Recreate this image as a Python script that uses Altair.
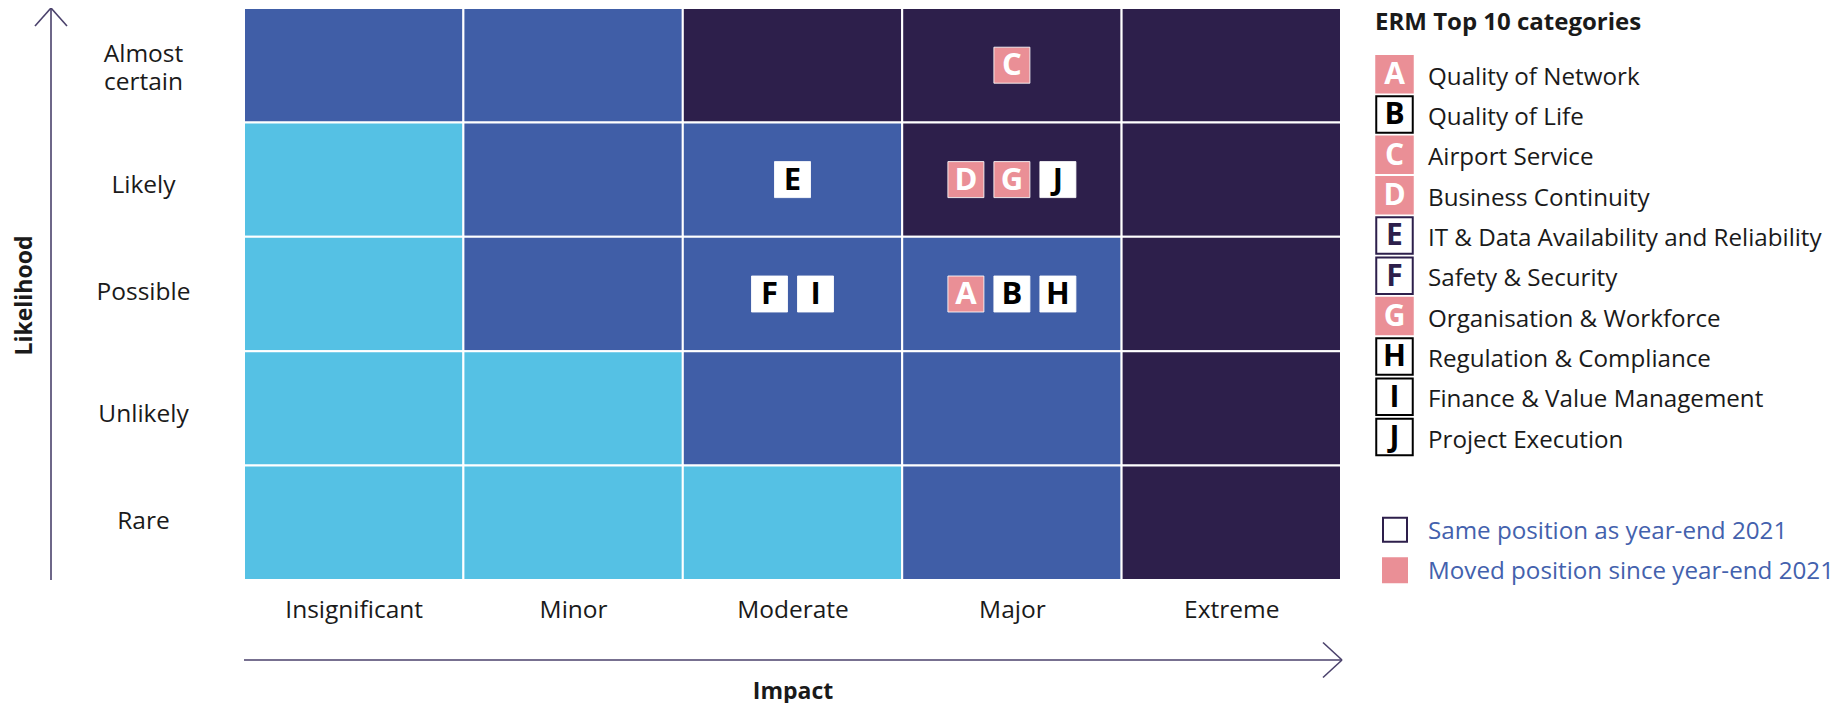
import json
import altair as alt
import pandas as pd

# ---------------- data ----------------
impact_levels = ["Insignificant", "Minor", "Moderate", "Major", "Extreme"]
likelihood_levels = ["Almost certain", "Likely", "Possible", "Unlikely", "Rare"]  # top -> bottom

# risk band of every cell, rows top -> bottom, columns left -> right
risk_matrix = [
    ["medium", "medium", "high", "high", "high"],
    ["low", "medium", "medium", "high", "high"],
    ["low", "medium", "medium", "medium", "high"],
    ["low", "low", "medium", "medium", "high"],
    ["low", "low", "low", "medium", "high"],
]
risk_bands = ["low", "medium", "high"]

letters = ["A", "B", "C", "D", "E", "F", "G", "H", "I", "J"]
categories = [
    "Quality of Network",
    "Quality of Life",
    "Airport Service",
    "Business Continuity",
    "IT & Data Availability and Reliability",
    "Safety & Security",
    "Organisation & Workforce",
    "Regulation & Compliance",
    "Finance & Value Management",
    "Project Execution",
]
letter_impact = ["Major", "Major", "Major", "Major", "Moderate",
                 "Moderate", "Major", "Major", "Moderate", "Major"]
letter_likelihood = ["Possible", "Possible", "Almost certain", "Likely", "Likely",
                     "Possible", "Likely", "Possible", "Possible", "Likely"]
letter_moved = [True, False, True, True, False, False, True, False, False, False]
legend_ink = ["moved", "black", "moved", "moved", "purple",
              "purple", "moved", "black", "black", "black"]

legend_title = "ERM Top 10 categories"
status_labels = ["Same position as year-end 2021", "Moved position since year-end 2021"]
status_kinds = ["same", "moved"]

# ---------------- styling ----------------
W, H = 1097, 572
COL_W = W / len(impact_levels)
BOX_PITCH = 46  # px between letter boxes in one cell

LIGHT, MID, DARK = "#55C1E4", "#405EA7", "#2D1F4B"
PINK = "#EA8F96"
PURPLE = "#2D1F4B"
ARROW = "#4A416B"
TXT = "#1A1A1A"
BLUE_TXT = "#4361AD"
FONT = "Open Sans"
AX_FS = 24.5
LEG_FS = 24.2

# ---------------- tables ----------------
cells = []
for r, row in enumerate(risk_matrix):
    for c, lvl in enumerate(row):
        cells.append({"impact": impact_levels[c], "likelihood": likelihood_levels[r],
                      "c0": c, "c1": c + 1, "r0": r, "r1": r + 1, "level": lvl})
cells_df = pd.DataFrame(cells)

boxes = pd.DataFrame({"letter": letters, "impact": letter_impact,
                      "likelihood": letter_likelihood,
                      "status": ["moved" if m else "same" for m in letter_moved]})
boxes["col"] = boxes["impact"].map(impact_levels.index)
boxes["row"] = boxes["likelihood"].map(likelihood_levels.index)
boxes["slot"] = boxes.groupby(["col", "row"]).cumcount()
boxes["n"] = boxes.groupby(["col", "row"])["letter"].transform("count")
boxes["bx"] = boxes["col"] + 0.5 + (boxes["slot"] - (boxes["n"] - 1) / 2) * BOX_PITCH / COL_W
boxes["by"] = boxes["row"] + 0.5

one = pd.DataFrame({"k": [0]})

xs = alt.Scale(domain=[0, len(impact_levels)], nice=False, zero=False)
ys = alt.Scale(domain=[0, len(likelihood_levels)], nice=False, zero=False, reverse=True)

x_expr = json.dumps(impact_levels) + "[floor(datum.value)]"
y_expr = "split(" + json.dumps(likelihood_levels) + "[floor(datum.value)], ' ')"

# small vertical nudges of the row labels, as set in the original layout
y_label_offset = {
    "condition": [
        {"test": "datum.value < 1", "value": -10.5},
        {"test": "datum.value > 1 && datum.value < 2", "value": 6},
        {"test": "datum.value > 3 && datum.value < 4", "value": 6},
    ],
    "value": -1.5,
}

x_axis = alt.Axis(values=[i + 0.5 for i in range(len(impact_levels))], labelExpr=x_expr,
                  grid=False, domain=False, ticks=False, tickSize=0, labelPadding=18,
                  labelFontSize=AX_FS, labelColor=TXT, labelFont=FONT, labelFontWeight="normal",
                  titleFontSize=23, titleFontWeight="bold", titleColor=TXT, titleFont=FONT,
                  titleBaseline="alphabetic", titleY=118)
y_axis = alt.Axis(values=[i + 0.5 for i in range(len(likelihood_levels))], labelExpr=y_expr,
                  grid=False, domain=False, ticks=False, tickSize=0, labelPadding=101,
                  labelAlign="center", labelBaseline="middle", labelLineHeight=28,
                  labelOffset=y_label_offset,
                  labelFontSize=AX_FS, labelColor=TXT, labelFont=FONT,
                  titleFontSize=23, titleFontWeight="bold", titleColor=TXT, titleFont=FONT,
                  titleX=-220, titleY=H / 2 + 1, titleAlign="center", titleBaseline="middle")

grid = alt.Chart(cells_df).mark_rect(stroke="white", strokeWidth=2).encode(
    x=alt.X("c0:Q", scale=xs, axis=x_axis, title="Impact"),
    x2="c1:Q",
    y=alt.Y("r0:Q", scale=ys, axis=y_axis, title="Likelihood"),
    y2="r1:Q",
    fill=alt.Fill("level:N", scale=alt.Scale(domain=risk_bands, range=[LIGHT, MID, DARK]), legend=None),
)

box_marks = alt.Chart(boxes).mark_square(size=1296, filled=True, stroke="white",
                                         strokeWidth=1, strokeOpacity=0.85, opacity=1).encode(
    x=alt.X("bx:Q", scale=xs, title="Impact"),
    y=alt.Y("by:Q", scale=ys, title="Likelihood"),
    fill=alt.condition("datum.status == 'moved'", alt.value(PINK), alt.value("white")),
)
box_text = alt.Chart(boxes).mark_text(font=FONT, fontWeight="bold", fontSize=31,
                                      align="center", baseline="middle", dy=1).encode(
    x=alt.X("bx:Q", scale=xs, title="Impact"),
    y=alt.Y("by:Q", scale=ys, title="Likelihood"),
    text="letter:N",
    color=alt.condition("datum.status == 'moved'", alt.value("white"), alt.value("black")),
)


def rule(x, y, x2=None, y2=None):
    enc = {"x": alt.value(x), "y": alt.value(y)}
    if x2 is not None:
        enc["x2"] = alt.value(x2)
    if y2 is not None:
        enc["y2"] = alt.value(y2)
    return alt.Chart(one).mark_rule(color=ARROW, strokeWidth=1.6).encode(**enc)


ax_x = 53 - 246
arr_y = 662 - 10
arrows = [
    rule(ax_x, 0, y2=H),
    rule(ax_x - 16, 18, x2=ax_x, y2=0),
    rule(ax_x + 16, 18, x2=ax_x, y2=0),
    rule(0, arr_y, x2=W + 1),
    rule(W + 1 - 19, arr_y - 17.5, x2=W + 1, y2=arr_y),
    rule(W + 1 - 19, arr_y + 17.5, x2=W + 1, y2=arr_y),
]

main = alt.layer(grid, box_marks, box_text, *arrows).properties(width=W, height=H)

# ---------------- legend panel ----------------
leg = pd.DataFrame({"letter": letters, "category": categories, "ink": legend_ink,
                    "idx": list(range(len(letters)))})
leg["status"] = ["moved" if m else "same" for m in letter_moved]
stat = pd.DataFrame({"label": status_labels, "kind": status_kinds,
                     "idx": [len(letters) + 1.3 + i for i in range(len(status_labels))]})

ls = alt.Scale(domain=[-1.64, 12.543], nice=False, zero=False, reverse=True)
LW = 380

leg_box = alt.Chart(leg).mark_square(size=1332, filled=True, strokeWidth=2, opacity=1).encode(
    x=alt.value(19.5),
    y=alt.Y("idx:Q", scale=ls, axis=None),
    fill=alt.condition("datum.status == 'moved'", alt.value(PINK), alt.value("white")),
    stroke=alt.Stroke("ink:N", scale=alt.Scale(domain=["moved", "black", "purple"],
                                               range=[PINK, "black", PURPLE]), legend=None),
)
leg_letter = alt.Chart(leg).mark_text(font=FONT, fontWeight="bold", fontSize=30,
                                      align="center", baseline="middle", dy=1).encode(
    x=alt.value(19.5),
    y=alt.Y("idx:Q", scale=ls, axis=None),
    text="letter:N",
    color=alt.Color("ink:N", scale=alt.Scale(domain=["moved", "black", "purple"],
                                             range=["white", "black", PURPLE]), legend=None),
)
leg_label = alt.Chart(leg).mark_text(font=FONT, fontSize=LEG_FS, align="left", baseline="middle",
                                     color=TXT, dy=3.5).encode(
    x=alt.value(53),
    y=alt.Y("idx:Q", scale=ls, axis=None),
    text="category:N",
)
leg_title = alt.Chart(one).mark_text(font=FONT, fontSize=24, fontWeight="bold", align="left",
                                     baseline="middle", color=TXT, text=legend_title).encode(
    x=alt.value(0),
    y=alt.Y(datum=-1.26, scale=ls, axis=None),
)
stat_box = alt.Chart(stat).mark_square(size=576, filled=True, strokeWidth=2, opacity=1).encode(
    x=alt.value(20),
    y=alt.Y("idx:Q", scale=ls, axis=None),
    fill=alt.condition("datum.kind == 'moved'", alt.value(PINK), alt.value("white")),
    stroke=alt.condition("datum.kind == 'moved'", alt.value(PINK), alt.value(PURPLE)),
)
stat_label = alt.Chart(stat).mark_text(font=FONT, fontSize=LEG_FS, align="left", baseline="middle",
                                       color=BLUE_TXT, dy=2).encode(
    x=alt.value(53),
    y=alt.Y("idx:Q", scale=ls, axis=None),
    text="label:N",
)

legend = alt.layer(leg_box, leg_letter, leg_label, leg_title, stat_box, stat_label).properties(
    width=LW, height=H)

chart = alt.hconcat(main, legend, spacing=29).properties(
    padding={"left": 5, "top": -1, "right": 0, "bottom": 0}
).configure(font=FONT).configure_view(strokeWidth=0, stroke="transparent")

chart.save("out.html", embed_options={"renderer": "svg", "actions": False})
